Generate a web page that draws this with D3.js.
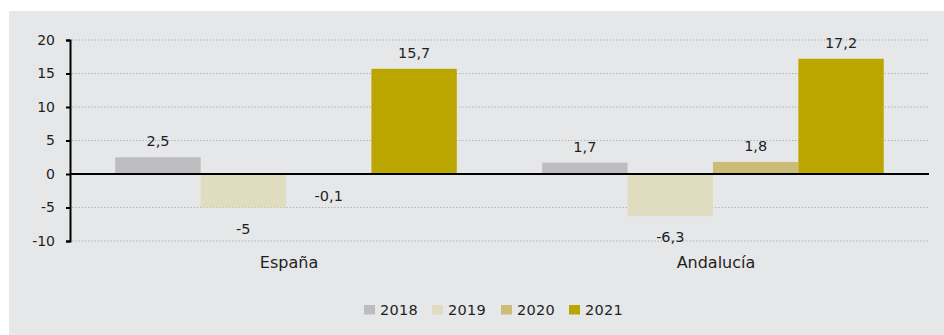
<!DOCTYPE html>
<html>
<head>
<meta charset="utf-8">
<script src="https://cdn.jsdelivr.net/npm/d3@7"></script>
<style>
  html, body { margin: 0; padding: 0; background: #ffffff; }
  svg { display: block; font-family: "DejaVu Sans", "Open Sans", sans-serif; }
</style>
</head>
<body>
<svg id="chart" width="944" height="335"></svg>
<script>
// Regions and years
const regions = ["España", "Andalucía"];
const years = ["2018", "2019", "2020", "2021"];
// Annual variation (%) per year, one value per region
const values2018 = [2.5, 1.7];
const values2019 = [-5, -6.3];
const values2020 = [-0.1, 1.8];
const values2021 = [15.7, 17.2];
const yTicks = [-10, -5, 0, 5, 10, 15, 20];
const colors = ["#bdbdbf", "#e0dcbf", "#cdbb78", "#bba600"];

const seriesValues = [values2018, values2019, values2020, values2021];
const rows = [];
regions.forEach((r, i) => {
  years.forEach((y, j) => rows.push({ region: r, year: y, value: seriesValues[j][i], idx: j }));
});

const svg = d3.select("#chart");
const W = 944, H = 335;
const margin = { left: 70, right: 15 };
const textColor = "#1f1f1f";

// panel background
svg.append("rect").attr("x", 9).attr("y", 11).attr("width", W - 9).attr("height", H - 11)
  .attr("fill", "#e6e7e9");

const x0 = d3.scaleBand().domain(regions)
  .range([margin.left, W - margin.right]).paddingInner(0.2).paddingOuter(0.106);
const x1 = d3.scaleBand().domain(years).range([0, x0.bandwidth()]);
const y = d3.scaleLinear().domain([-10, 20]).range([241, 40]);

// dotted gridlines
svg.append("g").selectAll("line").data(yTicks.filter(t => t !== 0)).join("line")
  .attr("x1", margin.left + 2).attr("x2", W - margin.right)
  .attr("y1", d => y(d)).attr("y2", d => y(d))
  .attr("stroke", "#a9a9ab").attr("stroke-width", 1).attr("stroke-dasharray", "1.2,2");

// bars
svg.append("g").selectAll("rect").data(rows).join("rect")
  .attr("x", d => x0(d.region) + x1(d.year))
  .attr("width", x1.bandwidth())
  .attr("y", d => y(Math.max(0, d.value)))
  .attr("height", d => Math.abs(y(d.value) - y(0)))
  .attr("fill", d => colors[d.idx]);

// zero line
svg.append("line").attr("x1", margin.left).attr("x2", W - margin.right)
  .attr("y1", y(0)).attr("y2", y(0)).attr("stroke", "#000").attr("stroke-width", 2);

// y axis (plain hyphen for negatives)
const yAxis = svg.append("g").attr("transform", `translate(${margin.left},0)`)
  .call(d3.axisLeft(y).tickValues(yTicks).tickSize(4).tickPadding(11).tickFormat(d => String(d)));
yAxis.select(".domain").attr("stroke", "#000").attr("stroke-width", 2);
yAxis.selectAll(".tick line").attr("stroke", "#000").attr("stroke-width", 2);
yAxis.selectAll(".tick text").attr("fill", textColor).attr("font-size", 14)
  .attr("font-family", "'DejaVu Sans', sans-serif");

// value labels
const fmt = v => String(v).replace(".", ",");
svg.append("g").selectAll("text").data(rows).join("text")
  .attr("x", d => x0(d.region) + x1(d.year) + x1.bandwidth() / 2)
  .attr("y", d => d.value >= 0 ? y(d.value) - 11 : y(d.value) + 26)
  .attr("text-anchor", "middle").attr("font-size", 14.5).attr("fill", textColor)
  .text(d => fmt(d.value));

// region labels
svg.append("g").selectAll("text").data(regions).join("text")
  .attr("x", d => x0(d) + x0.bandwidth() / 2 + 3)
  .attr("y", 268).attr("text-anchor", "middle").attr("font-size", 16).attr("fill", textColor)
  .text(d => d);

// legend
const legendX = [364, 432, 501, 569];
const lg = svg.append("g").selectAll("g").data(years).join("g")
  .attr("transform", (d, i) => `translate(${legendX[i]},305)`);
lg.append("rect").attr("width", 11).attr("height", 9.5).attr("fill", (d, i) => colors[i]);
lg.append("text").attr("x", 16).attr("y", 9.5).attr("font-size", 14.5).attr("fill", textColor)
  .attr("letter-spacing", 0.3).text(d => d);
</script>
</body>
</html>
